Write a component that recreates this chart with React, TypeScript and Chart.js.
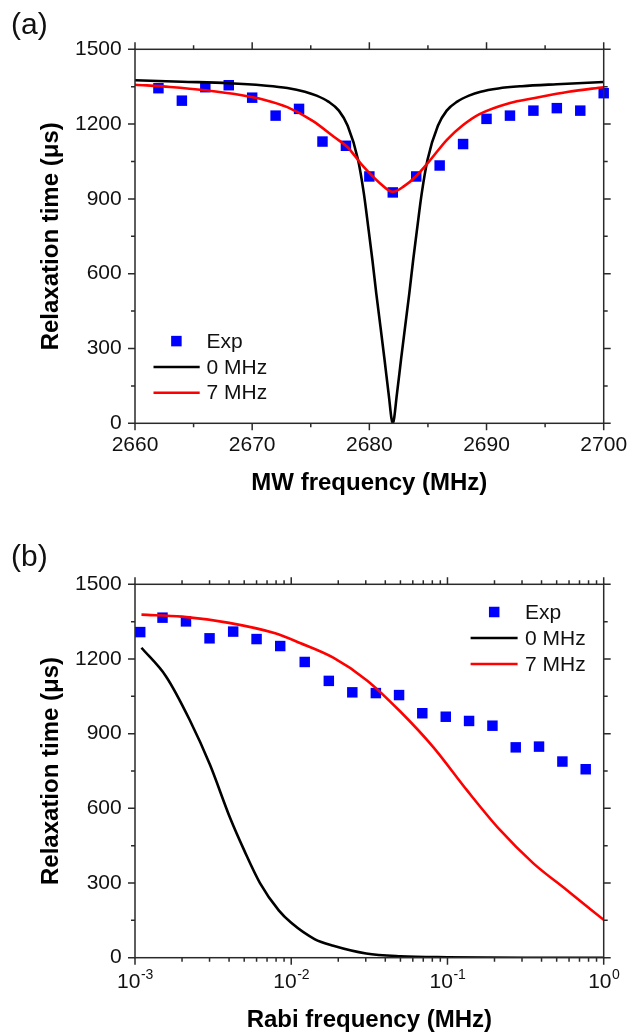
import React, { useEffect, useRef } from "react";
import { Chart, registerables } from "chart.js";

Chart.register(...registerables);

const FONT = "'Liberation Sans', Arial, Helvetica, sans-serif";

// ---------- Panel (a): relaxation time vs MW frequency ----------
const mwFreqExp = [2662, 2664, 2666, 2668, 2670, 2672, 2674, 2676, 2678, 2680, 2682, 2684, 2686, 2688, 2690, 2692, 2694, 2696, 2698, 2700];
const mwTauExp = [1344, 1294, 1348, 1356, 1306, 1234, 1261, 1130, 1113, 990, 926, 990, 1034, 1120, 1221, 1234, 1254, 1264, 1254, 1324];

const mwFreqFit0 = [2660, 2664, 2668, 2671, 2673, 2674.5, 2675.5, 2676.5, 2677.4, 2678.15, 2679.04, 2679.53, 2679.9, 2680.26, 2680.59, 2680.95, 2681.3, 2681.64, 2682, 2682.36, 2682.7, 2683.05, 2683.41, 2683.74, 2684.1, 2684.47, 2684.96, 2685.85, 2686.6, 2687.5, 2688.5, 2689.5, 2691, 2693, 2696, 2700];
const mwTauFit0 = [1376, 1370, 1364, 1355, 1345, 1330, 1314, 1290, 1254, 1193, 1056, 922, 789, 655, 521, 387, 254, 120, 0, 120, 254, 387, 521, 655, 789, 922, 1056, 1193, 1254, 1290, 1314, 1330, 1343, 1352, 1360, 1369];

const mwFreqFit7 = [2660, 2663, 2666, 2669, 2671, 2673, 2675.2, 2677, 2678.1, 2679.5, 2680.9, 2682, 2683, 2684, 2685.2, 2686.6, 2688, 2689.4, 2692, 2694, 2697, 2700];
const mwTauFit7 = [1358, 1349, 1336, 1317, 1298, 1268, 1212, 1148, 1109, 1029, 963, 928, 952, 992, 1056, 1136, 1196, 1240, 1285, 1304, 1330, 1348];

// ---------- Panel (b): relaxation time vs Rabi frequency ----------
const rabiExp = [0.00108, 0.0015, 0.00212, 0.003, 0.00425, 0.006, 0.0085, 0.0122, 0.0174, 0.0246, 0.0348, 0.049, 0.069, 0.0975, 0.1375, 0.194, 0.2735, 0.3855, 0.544, 0.767];
const rabiTauExp = [1308, 1366, 1351, 1283, 1310, 1280, 1252, 1188, 1112, 1066, 1063, 1055, 982, 968, 951, 932, 845, 848, 788, 757];

const rabiFit0 = [0.0011, 0.00158, 0.00224, 0.00302, 0.00407, 0.00501, 0.00631, 0.00832, 0.01, 0.0141, 0.0186, 0.0302, 0.0501, 0.1, 0.316, 1];
const rabiTauFit0 = [1245, 1130, 955, 775, 560, 430, 300, 190, 140, 75, 48, 17, 6, 2, 0, 0];

const rabiFit7 = [0.0011, 0.002, 0.004, 0.0079, 0.01138, 0.01858, 0.0304, 0.0497, 0.0811, 0.1327, 0.2168, 0.3548, 0.5794, 1];
const rabiTauFit7 = [1378, 1370, 1345, 1303, 1264, 1205, 1115, 990, 846, 674, 513, 379, 272, 152];

// ---------- ticks & labels ----------
const yMajor = [0, 300, 600, 900, 1200, 1500];
const yMinor = [150, 450, 750, 1050, 1350];
const xMajorA = [2660, 2670, 2680, 2690, 2700];
const xMinorA = [2665, 2675, 2685, 2695];
const xMajorB = [0.001, 0.01, 0.1, 1];
const xMinorB = [0.002, 0.003, 0.004, 0.005, 0.006, 0.007, 0.008, 0.009, 0.02, 0.03, 0.04, 0.05, 0.06, 0.07, 0.08, 0.09, 0.2, 0.3, 0.4, 0.5, 0.6, 0.7, 0.8, 0.9];
const xExpLabelsB = ["-3", "-2", "-1", "0"];
const legendLabels = ["Exp", "0 MHz", "7 MHz"];
const yTitle = "Relaxation time (\u03bcs)";

const AXIS = "#2a2a2a";
const TXT = "#111";
const BLUE = "#0000ff";
const RED = "#ff0000";
const BLACK = "#000000";

const zip = (xs: number[], ys: number[]) => xs.map((x, i) => ({ x, y: ys[i] }));

type Decor = {
  xMajor: number[];
  xMinor: number[];
  logLabels?: string[];
  letter: string;
  letterY: number;
  legend: { sqX: number; sqY: number; lineX1: number; lineX2: number; textX: number; rowGap: number };
};

function makeDecor(cfg: Decor) {
  return {
    id: "decor",
    afterDraw(chart: any) {
      const ctx = chart.ctx as CanvasRenderingContext2D;
      const { left, right, top, bottom } = chart.chartArea;
      const xs = chart.scales.x;
      const ys = chart.scales.y;
      const MAJ = 7;
      const MIN = 4;
      ctx.save();
      ctx.strokeStyle = AXIS;
      ctx.lineWidth = 1.5;
      ctx.beginPath();
      const seg = (a: number, b: number, c: number, d: number) => {
        ctx.moveTo(a, b);
        ctx.lineTo(c, d);
      };
      cfg.xMajor.forEach((v) => {
        const p = xs.getPixelForValue(v);
        seg(p, bottom, p, bottom + MAJ);
        seg(p, top, p, top - MAJ);
      });
      cfg.xMinor.forEach((v) => {
        const p = xs.getPixelForValue(v);
        seg(p, bottom, p, bottom + MIN);
        seg(p, top, p, top - MIN);
      });
      yMajor.forEach((v) => {
        const p = ys.getPixelForValue(v);
        seg(left, p, left - MAJ, p);
        seg(right, p, right + MAJ, p);
      });
      yMinor.forEach((v) => {
        const p = ys.getPixelForValue(v);
        seg(left, p, left - MIN, p);
        seg(right, p, right + MIN, p);
      });
      ctx.stroke();
      ctx.strokeRect(left, top, right - left, bottom - top);

      ctx.fillStyle = TXT;
      ctx.textBaseline = "middle";
      ctx.textAlign = "left";
      if (cfg.logLabels) {
        cfg.logLabels.forEach((e, i) => {
          const p = xs.getPixelForValue(cfg.xMajor[i]);
          ctx.font = `21px ${FONT}`;
          const wb = ctx.measureText("10").width;
          ctx.font = `14px ${FONT}`;
          const we = ctx.measureText(e).width;
          const x0 = p - (wb + we) / 2;
          ctx.font = `21px ${FONT}`;
          ctx.fillText("10", x0, bottom + 24.8);
          ctx.font = `14px ${FONT}`;
          ctx.fillText(e, x0 + wb + 0.5, bottom + 17.5);
        });
      }

      // panel letter
      ctx.font = `30px ${FONT}`;
      ctx.fillText(cfg.letter, 11, cfg.letterY);

      // legend
      const L = cfg.legend;
      ctx.font = `21px ${FONT}`;
      ctx.fillStyle = BLUE;
      ctx.fillRect(L.sqX - 5.25, L.sqY - 5.25, 10.5, 10.5);
      ctx.lineWidth = 2.5;
      ctx.strokeStyle = BLACK;
      ctx.beginPath();
      ctx.moveTo(L.lineX1, L.sqY + L.rowGap);
      ctx.lineTo(L.lineX2, L.sqY + L.rowGap);
      ctx.stroke();
      ctx.strokeStyle = RED;
      ctx.beginPath();
      ctx.moveTo(L.lineX1, L.sqY + 2 * L.rowGap);
      ctx.lineTo(L.lineX2, L.sqY + 2 * L.rowGap);
      ctx.stroke();
      ctx.fillStyle = TXT;
      legendLabels.forEach((t, i) => ctx.fillText(t, L.textX, L.sqY + i * L.rowGap + 1));
      ctx.restore();
    },
  };
}

function datasets(xe: number[], ye: number[], x0: number[], y0: number[], x7: number[], y7: number[]) {
  return [
    {
      label: legendLabels[0],
      data: zip(xe, ye),
      showLine: false,
      pointStyle: "rect",
      pointRadius: 7.4,
      pointBorderWidth: 0,
      pointBackgroundColor: BLUE,
      borderColor: BLUE,
      backgroundColor: BLUE,
      clip: false,
      order: 3,
    },
    {
      label: legendLabels[1],
      data: zip(x0, y0),
      borderColor: BLACK,
      borderWidth: 2.6,
      pointRadius: 0,
      cubicInterpolationMode: "monotone",
      fill: false,
      order: 2,
    },
    {
      label: legendLabels[2],
      data: zip(x7, y7),
      borderColor: RED,
      borderWidth: 2.6,
      pointRadius: 0,
      cubicInterpolationMode: "monotone",
      fill: false,
      order: 1,
    },
  ];
}

const plainTick = (v: any) => String(v);

function yScale() {
  return {
    type: "linear",
    min: 0,
    max: 1500,
    grid: { display: false, drawTicks: false },
    border: { display: false },
    ticks: { stepSize: 300, padding: 13.3, color: TXT, font: { size: 21, family: FONT }, callback: plainTick },
    title: {
      display: true,
      text: yTitle,
      color: "#000",
      font: { size: 24, weight: "bold", family: FONT },
      padding: { top: 37.4, bottom: 0 },
    },
    afterFit: (s: any) => {
      s.width = 135;
      s.paddingTop = 0;
      s.paddingBottom = 0;
    },
  };
}

function configA(): any {
  return {
    type: "line",
    data: { datasets: datasets(mwFreqExp, mwTauExp, mwFreqFit0, mwTauFit0, mwFreqFit7, mwTauFit7) },
    options: {
      responsive: false,
      animation: false,
      devicePixelRatio: 1,
      layout: { padding: { top: 49.3, right: 23.3, left: 0, bottom: 0 } },
      plugins: { legend: { display: false }, tooltip: { enabled: false }, title: { display: false } },
      scales: {
        x: {
          type: "linear",
          min: 2660,
          max: 2700,
          grid: { display: false, drawTicks: false },
          border: { display: false },
          ticks: {
            stepSize: 10,
            padding: 9.1,
            color: TXT,
            maxRotation: 0,
            autoSkip: false,
            font: { size: 21, family: FONT },
            callback: plainTick,
          },
          title: {
            display: true,
            text: "MW frequency (MHz)",
            color: "#000",
            font: { size: 24, weight: "bold", family: FONT },
            padding: { top: 0, bottom: 22.6 },
          },
          afterFit: (s: any) => {
            s.height = 96.7;
            s.paddingLeft = 0;
            s.paddingRight = 0;
          },
        },
        y: yScale(),
      },
    },
    plugins: [
      makeDecor({
        xMajor: xMajorA,
        xMinor: xMinorA,
        letter: "(a)",
        letterY: 26,
        legend: { sqX: 176.4, sqY: 341.1, lineX1: 153.5, lineX2: 199.7, textX: 206.6, rowGap: 25.8 },
      }),
    ],
  };
}

function configB(): any {
  return {
    type: "line",
    data: { datasets: datasets(rabiExp, rabiTauExp, rabiFit0, rabiTauFit0, rabiFit7, rabiTauFit7) },
    options: {
      responsive: false,
      animation: false,
      devicePixelRatio: 1,
      layout: { padding: { top: 64.3, right: 23.3, left: 0, bottom: 0 } },
      plugins: { legend: { display: false }, tooltip: { enabled: false }, title: { display: false } },
      scales: {
        x: {
          type: "logarithmic",
          min: 0.001,
          max: 1,
          grid: { display: false, drawTicks: false },
          border: { display: false },
          ticks: { display: false },
          title: {
            display: true,
            text: "Rabi frequency (MHz)",
            color: "#000",
            font: { size: 24, weight: "bold", family: FONT },
            padding: { top: 0, bottom: 15.4 },
          },
          afterFit: (s: any) => {
            s.height = 92.3;
            s.paddingLeft = 0;
            s.paddingRight = 0;
          },
        },
        y: yScale(),
      },
    },
    plugins: [
      makeDecor({
        xMajor: xMajorB,
        xMinor: xMinorB,
        logLabels: xExpLabelsB,
        letter: "(b)",
        letterY: 38,
        legend: { sqX: 494.2, sqY: 92, lineX1: 470.6, lineX2: 517.6, textX: 525, rowGap: 26 },
      }),
    ],
  };
}

function Panel({ top, height, build }: { top: number; height: number; build: () => any }) {
  const ref = useRef<HTMLCanvasElement>(null);
  useEffect(() => {
    if (!ref.current) return;
    const chart = new Chart(ref.current, build());
    return () => chart.destroy();
  }, []);
  return (
    <canvas
      ref={ref}
      width={627}
      height={height}
      style={{ position: "absolute", left: 0, top, width: 627, height, display: "block" }}
    />
  );
}

export default function App() {
  return (
    <div
      style={{
        position: "absolute",
        left: 0,
        top: 0,
        width: 627,
        height: 1033,
        overflow: "hidden",
        background: "#fff",
      }}
    >
      <Panel top={0} height={520} build={configA} />
      <Panel top={520} height={530} build={configB} />
    </div>
  );
}
